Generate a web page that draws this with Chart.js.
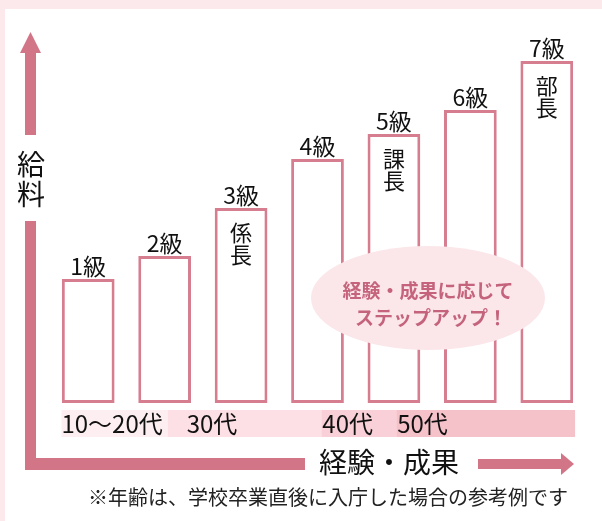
<!DOCTYPE html>
<html>
<head>
<meta charset="utf-8">
<script src="https://cdn.jsdelivr.net/npm/chart.js@4.4.1/dist/chart.umd.min.js"></script>
<style>
  html, body { margin: 0; padding: 0; background: #fff; }
  canvas { display: block; }
</style>
</head>
<body>
<canvas id="c" width="602" height="521"></canvas>
<script>
// grades on the x axis, salary level (relative) on the y axis
const grades = ["1級", "2級", "3級", "4級", "5級", "6級", "7級"];
const salary = [124, 147, 195, 244, 269, 293, 342];
const posts = ["", "", "係長", "", "課長", "", "部長"];
const ageBands = ["10～20代", "30代", "40代", "50代"];
const bandEdges = [-0.35, 1.04, 3.05, 4.03, 6.37];

const FONT = '"Noto Sans CJK JP", "Noto Sans", sans-serif';
const ROSE = "#d27587";
const bandColors = ["#fdeff1", "#fce0e5", "#f9d0d7", "#f6c2ca"];
const bandTextDx = [0, 19, 1, 1];

const decor = {
  id: "decor",
  beforeDraw(chart) {
    const ctx = chart.ctx;
    const x = chart.scales.x;
    const step = x.getPixelForValue(1) - x.getPixelForValue(0);
    const px = v => x.getPixelForValue(0) + v * step;
    ctx.save();
    ctx.fillStyle = "#fff";
    ctx.fillRect(0, 0, chart.width, chart.height);
    // pink frame
    ctx.fillStyle = "#fbe9ec";
    ctx.fillRect(0, 0, chart.width, 9);
    ctx.fillRect(0, 0, 5, chart.height);

    // age bands
    for (let i = 0; i < ageBands.length; i++) {
      const a = px(bandEdges[i]), b = px(bandEdges[i + 1]);
      ctx.fillStyle = bandColors[i];
      ctx.fillRect(a, 410, b - a, 27);
      ctx.fillStyle = "#111";
      ctx.font = "24px " + FONT;
      ctx.textBaseline = "middle";
      ctx.textAlign = "left";
      ctx.fillText(ageBands[i], a + bandTextDx[i], 424);
    }

    // salary axis arrow
    ctx.fillStyle = ROSE;
    ctx.beginPath();
    ctx.moveTo(30.5, 32);
    ctx.lineTo(41, 53);
    ctx.lineTo(20, 53);
    ctx.closePath();
    ctx.fill();
    ctx.fillRect(25, 52, 11, 83);
    ctx.fillRect(25, 221, 11, 249);
    ctx.fillRect(25, 458, 280, 12);
    // experience arrow
    ctx.fillRect(478, 459, 85, 10);
    ctx.beginPath();
    ctx.moveTo(561, 453);
    ctx.lineTo(574, 464);
    ctx.lineTo(561, 475);
    ctx.closePath();
    ctx.fill();

    ctx.fillStyle = "#111";
    ctx.font = "28px " + FONT;
    ctx.textAlign = "center";
    ctx.textBaseline = "middle";
    ctx.fillText("給", 31, 164);
    ctx.fillText("料", 31, 194);
    ctx.fillText("経験・成果", 389, 462);
    ctx.restore();
  },
  afterDatasetsDraw(chart) {
    const ctx = chart.ctx;
    const meta = chart.getDatasetMeta(0);
    ctx.save();
    ctx.fillStyle = "#111";
    ctx.textAlign = "center";
    ctx.textBaseline = "middle";
    meta.data.forEach((bar, i) => {
      ctx.font = "23px " + FONT;
      ctx.fillText(grades[i], bar.x, bar.y - 13);
      if (posts[i]) {
        ctx.font = "22px " + FONT;
        const chars = Array.from(posts[i]);
        chars.forEach((ch, k) => ctx.fillText(ch, bar.x, bar.y + 25 + k * 22));
      }
    });

    // bubble
    ctx.fillStyle = "#fbe7ea";
    ctx.beginPath();
    ctx.ellipse(428, 298, 117, 52, 0, 0, Math.PI * 2);
    ctx.fill();
    ctx.fillStyle = "#c4637b";
    ctx.font = "bold 19px " + FONT;
    ctx.fillText("経験・成果に応じて", 428, 291);
    ctx.fillText("ステップアップ！", 431, 318);

    ctx.fillStyle = "#222";
    ctx.font = "20px " + FONT;
    ctx.textAlign = "left";
    ctx.fillText("※年齢は、学校卒業直後に入庁した場合の参考例です", 88, 497);
    ctx.restore();
  }
};

new Chart(document.getElementById("c"), {
  type: "bar",
  data: {
    labels: grades,
    datasets: [{
      data: salary,
      backgroundColor: "#fff",
      borderColor: "#d67e90",
      borderWidth: 3,
      borderSkipped: false,
      barPercentage: 0.69,
      categoryPercentage: 1
    }]
  },
  options: {
    responsive: false,
    animation: false,
    layout: { padding: { left: 50, right: 17, top: 61, bottom: 118 } },
    plugins: { legend: { display: false }, tooltip: { enabled: false } },
    scales: {
      x: { display: false },
      y: { display: false, min: 0, max: 342 }
    }
  },
  plugins: [decor]
});
</script>
</body>
</html>
